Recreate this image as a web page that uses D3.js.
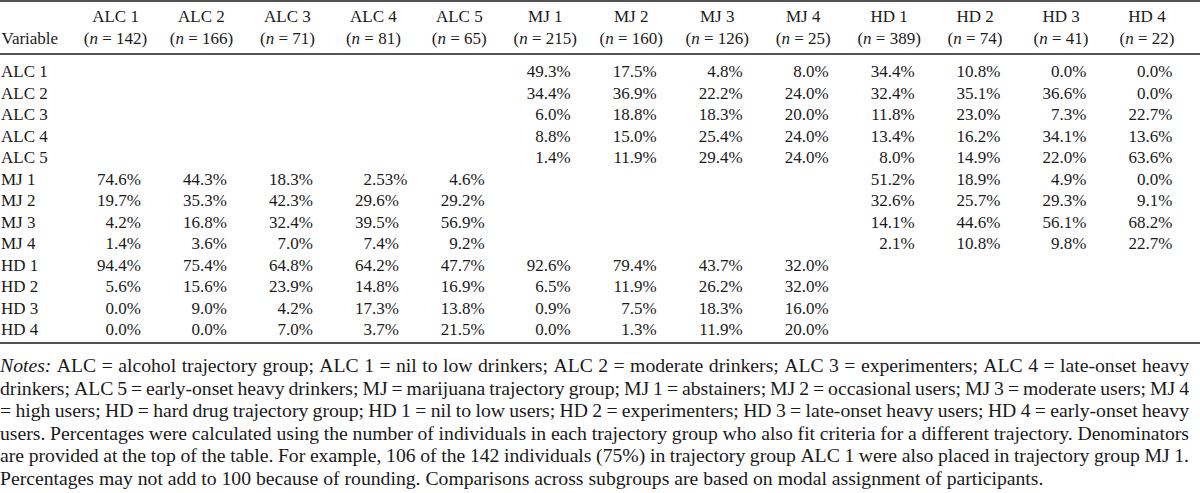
<!DOCTYPE html>
<html><head><meta charset="utf-8">
<script src="https://cdn.jsdelivr.net/npm/d3@7"></script>
<style>
html,body{margin:0;padding:0;background:#fff;}
svg{display:block;}
text{font-family:"Liberation Serif","Times New Roman",serif;fill:#1a1a1a;}
</style></head>
<body>
<script>
// ---- data ----
const colLabels = ["ALC 1","ALC 2","ALC 3","ALC 4","ALC 5","MJ 1","MJ 2","MJ 3","MJ 4","HD 1","HD 2","HD 3","HD 4"];
const colN = [142,166,71,81,65,215,160,126,25,389,74,41,22];
const rowLabels = ["ALC 1","ALC 2","ALC 3","ALC 4","ALC 5","MJ 1","MJ 2","MJ 3","MJ 4","HD 1","HD 2","HD 3","HD 4"];
const rowALC1 = [null,null,null,null,null,"49.3","17.5","4.8","8.0","34.4","10.8","0.0","0.0"];
const rowALC2 = [null,null,null,null,null,"34.4","36.9","22.2","24.0","32.4","35.1","36.6","0.0"];
const rowALC3 = [null,null,null,null,null,"6.0","18.8","18.3","20.0","11.8","23.0","7.3","22.7"];
const rowALC4 = [null,null,null,null,null,"8.8","15.0","25.4","24.0","13.4","16.2","34.1","13.6"];
const rowALC5 = [null,null,null,null,null,"1.4","11.9","29.4","24.0","8.0","14.9","22.0","63.6"];
const rowMJ1 = ["74.6","44.3","18.3","2.53","4.6",null,null,null,null,"51.2","18.9","4.9","0.0"];
const rowMJ2 = ["19.7","35.3","42.3","29.6","29.2",null,null,null,null,"32.6","25.7","29.3","9.1"];
const rowMJ3 = ["4.2","16.8","32.4","39.5","56.9",null,null,null,null,"14.1","44.6","56.1","68.2"];
const rowMJ4 = ["1.4","3.6","7.0","7.4","9.2",null,null,null,null,"2.1","10.8","9.8","22.7"];
const rowHD1 = ["94.4","75.4","64.8","64.2","47.7","92.6","79.4","43.7","32.0",null,null,null,null];
const rowHD2 = ["5.6","15.6","23.9","14.8","16.9","6.5","11.9","26.2","32.0",null,null,null,null];
const rowHD3 = ["0.0","9.0","4.2","17.3","13.8","0.9","7.5","18.3","16.0",null,null,null,null];
const rowHD4 = ["0.0","0.0","7.0","3.7","21.5","0.0","1.3","11.9","20.0",null,null,null,null];
const values = [rowALC1,rowALC2,rowALC3,rowALC4,rowALC5,rowMJ1,rowMJ2,rowMJ3,rowMJ4,rowHD1,rowHD2,rowHD3,rowHD4];
const noteLines = [
  "Notes: ALC = alcohol trajectory group; ALC 1 = nil to low drinkers; ALC 2 = moderate drinkers; ALC 3 = experimenters; ALC 4 = late-onset heavy",
  "drinkers; ALC 5 = early-onset heavy drinkers; MJ = marijuana trajectory group; MJ 1 = abstainers; MJ 2 = occasional users; MJ 3 = moderate users; MJ 4",
  "= high users; HD = hard drug trajectory group; HD 1 = nil to low users; HD 2 = experimenters; HD 3 = late-onset heavy users; HD 4 = early-onset heavy",
  "users. Percentages were calculated using the number of individuals in each trajectory group who also fit criteria for a different trajectory. Denominators",
  "are provided at the top of the table. For example, 106 of the 142 individuals (75%) in trajectory group ALC 1 were also placed in trajectory group MJ 1.",
  "Percentages may not add to 100 because of rounding. Comparisons across subgroups are based on modal assignment of participants."
];

// ---- layout ----
const W = 1200, H = 493, FS = 17, NFS = 19.7;
const svg = d3.select("body").append("svg").attr("width", W).attr("height", H);

const x = d3.scaleLinear().domain([0, colLabels.length - 1]).range([115.5, 1147]);
const y = d3.scaleLinear().domain([0, rowLabels.length - 1]).range([77.3, 335]);
const dotOffset = -1.5;

// rules
const rule = (yy) => svg.append("line").attr("x1", 0).attr("x2", 1200).attr("y1", yy).attr("y2", yy)
  .attr("stroke", "#1a1a1a").attr("stroke-width", 1.3);
rule(1); rule(54); rule(343);

// header
svg.append("text").attr("x", 1.5).attr("y", 43.5).attr("font-size", FS).text("Variable");
const hdr = svg.append("g").selectAll("g").data(colLabels).join("g");
hdr.append("text").attr("x", (d, i) => x(i)).attr("y", 21.8).attr("text-anchor", "middle").attr("font-size", FS).text(d => d);
const h2 = hdr.append("text").attr("x", (d, i) => x(i)).attr("y", 43.5).attr("text-anchor", "middle").attr("font-size", FS);
h2.append("tspan").text("(");
h2.append("tspan").attr("font-style", "italic").text("n");
h2.append("tspan").text((d, i) => " = " + colN[i] + ")");

// row labels
svg.append("g").selectAll("text").data(rowLabels).join("text")
  .attr("x", 1).attr("y", (d, i) => y(i)).attr("font-size", FS).text(d => d);

// cells (decimal-aligned)
const cells = [];
values.forEach((row, r) => row.forEach((v, c) => { if (v !== null) cells.push({ r, c, v }); }));
const cg = svg.append("g").selectAll("g").data(cells).join("g");
cg.append("text").attr("x", d => x(d.c) + dotOffset).attr("y", d => y(d.r)).attr("text-anchor", "end")
  .attr("font-size", FS).text(d => d.v.split(".")[0]);
cg.append("text").attr("x", d => x(d.c) + dotOffset).attr("y", d => y(d.r)).attr("text-anchor", "start")
  .attr("font-size", FS).text(d => "." + d.v.split(".")[1] + "%");

// notes (justified)
const noteY = d3.scaleLinear().domain([0, noteLines.length - 1]).range([372, 485]);
const L = 0, R = 1189;
noteLines.forEach((line, li) => {
  const words = line.split(" ");
  const g = svg.append("g");
  const nodes = words.map((w, wi) => {
    const t = g.append("text").attr("y", noteY(li)).attr("font-size", NFS)
      .attr("font-style", (li === 0 && wi === 0) ? "italic" : null).text(w);
    return { t, w: t.node().getComputedTextLength() };
  });
  const total = d3.sum(nodes, d => d.w);
  const last = li === noteLines.length - 1;
  const gap = last ? NFS * 0.25 : (R - L - total) / (nodes.length - 1);
  let cx = L;
  nodes.forEach(n => { n.t.attr("x", cx); cx += n.w + gap; });
});
</script>
</body></html>
